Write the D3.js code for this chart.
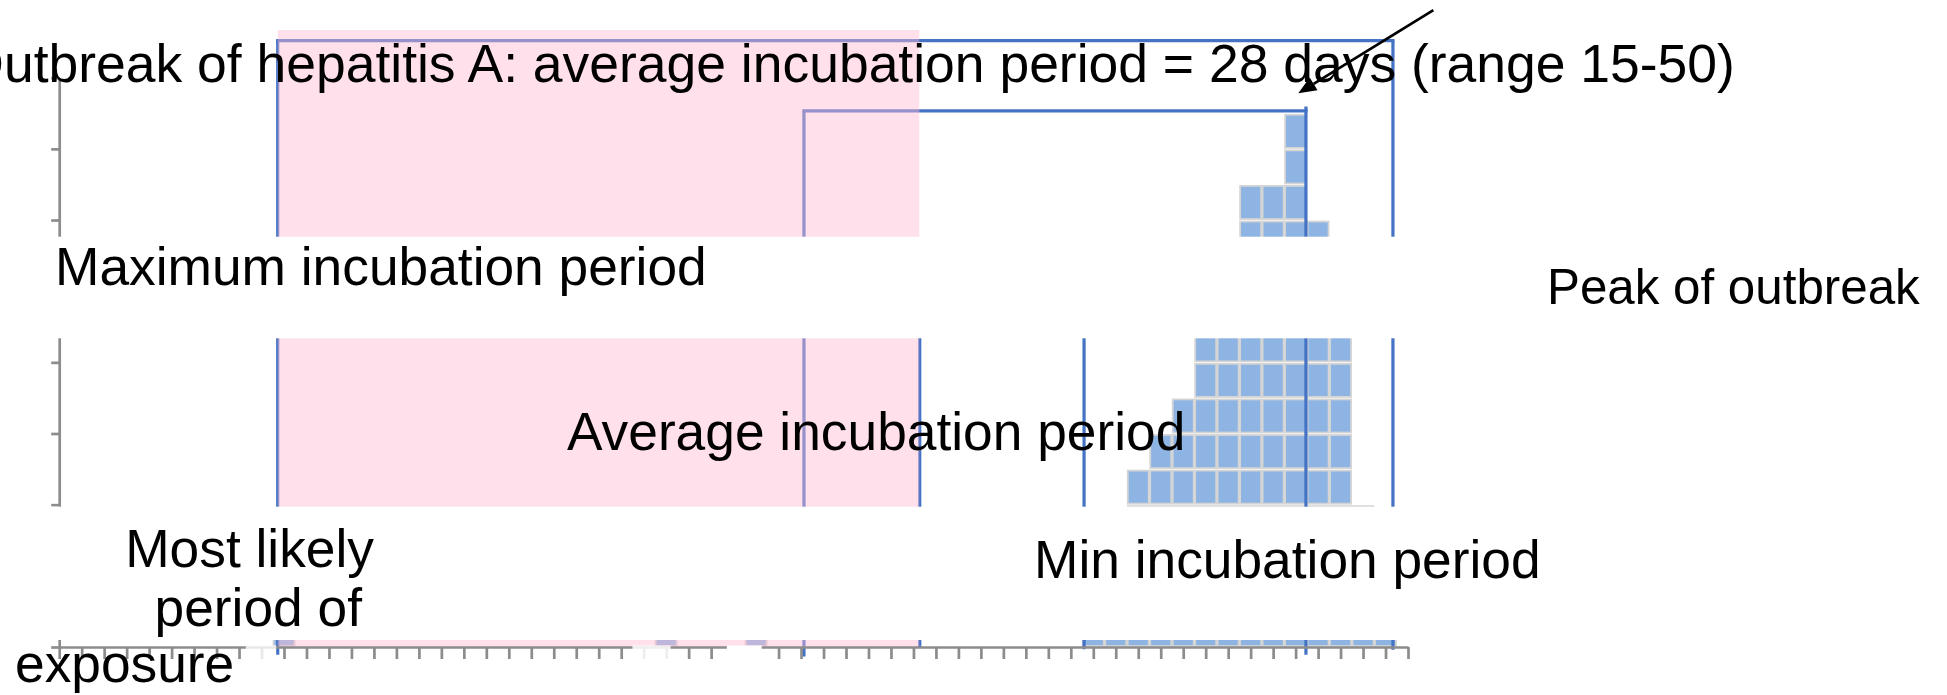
<!DOCTYPE html>
<html>
<head>
<meta charset="utf-8">
<script src="https://cdn.jsdelivr.net/npm/d3@7"></script>
<style>
  html, body { margin: 0; padding: 0; background: #fff; }
  svg { display: block; }
  text { font-family: "Liberation Sans", Arial, sans-serif; fill: #000; }
</style>
</head>
<body>
<svg id="chart" width="1947" height="695"></svg>
<script>
// ---------------- data ----------------
const dayTicks = d3.range(0, 61);                 // x axis: one tick per day
const yTicks = d3.range(0, 17, 2);                 // y axis: cases, every 2
const caseDays   = [10, 27, 31, 46, 47, 48, 49, 50, 51, 52, 53, 54, 55, 56, 57, 58, 59];
const caseCounts = [ 1,  1,  1,  2,  3,  5,  6,  7, 10, 11, 13, 13, 15, 12, 10,  4,  2];

// reference lines (day positions) with their top / bottom (case units)
const refDays   = [9.72, 33.13, 38.28, 45.59, 55.46, 59.33];
const refTop    = [17.04, 15.07, 11.0, 11.0, 15.19, 17.04];
const refBottom = [-0.22, -0.27, 0.0, -0.06, -0.22, -0.08];

// brackets: maximum incubation and average incubation
const bracketFrom  = [9.72, 33.13];
const bracketTo    = [59.33, 55.46];
const bracketLevel = [17.04, 15.07];

// most likely period of exposure window
const exposureWindow = [9.72, 38.26];
const exposureTop = 17.34;

// white patches along the axis (day ranges)
const patchFrom = [8.3, 25.5, 29.7];
const patchTo   = [9.65, 27.2, 31.25];
const patchOpacity = [0.8, 0.85, 1];

// labels
const labelTexts = [
  "Outbreak of hepatitis A: average incubation period = 28 days (range 15-50)",
  "Maximum incubation period",
  "Peak of outbreak",
  "Average incubation period",
  "Most likely",
  "period of",
  "exposure",
  "Min incubation period"
];

// ---------------- layout ----------------
const W = 1947, H = 695;
const labelLayout = [
  {x: 1733,   y: 81.5,  anchor: "start",  size: 53.3},
  {x: 55,     y: 285,   anchor: "start",  size: 53.3},
  {x: 1547,   y: 304,   anchor: "start",  size: 49.3},
  {x: 567,    y: 450,   anchor: "start",  size: 53.3},
  {x: 249.6,  y: 567,   anchor: "middle", size: 53.3},
  {x: 258.3,  y: 626,   anchor: "middle", size: 53.3},
  {x: 15,     y: 681.5, anchor: "start",  size: 53.3},
  {x: 1034,   y: 578,   anchor: "start",  size: 53.3}
];
// title fit: advance start of the "h" of "hepatitis" and advance end of the text
const titleFit = {hIndex: 12, hStart: 256.5, end: 1735};
const whiteBands = [[236.7, 338.3], [506.7, 640]];
const arrowFrom = {d: 61.13, v: 17.9}, arrowTo = {d: 55.12, v: 15.56};

const svg = d3.select("#chart");
const x = d3.scaleLinear().domain([0, 60]).range([59.2, 1408]);
const y = d3.scaleLinear().domain([0, 16]).range([647, 77.7]);

const BLUE = "#4472c4";
const FILL = "#8eb4e3";
const AXIS = "#8c8c8c";

// ---------------- case squares ----------------
const squares = [];
caseDays.forEach((d, i) => {
  for (let k = 0; k < caseCounts[i]; k++) squares.push({d, k});
});
svg.append("g").selectAll("rect").data(squares).join("rect")
  .attr("x", s => x(s.d - 0.5) + 0.75)
  .attr("width", s => x(s.d + 0.5) - x(s.d - 0.5) - 1.5)
  .attr("y", s => y(s.k + 1) + 1.5)
  .attr("height", s => y(s.k) - y(s.k + 1) - 2.5)
  .attr("fill", FILL)
  .attr("stroke", "#d4d4d4")
  .attr("stroke-width", 1.8);

// ---------------- reference lines ----------------
const gLines = svg.append("g").attr("stroke", BLUE).attr("stroke-width", 3.2).attr("fill", "none");
gLines.selectAll("line.v").data(refDays).join("line").attr("class", "v")
  .attr("x1", d => x(d)).attr("x2", d => x(d))
  .attr("y1", (d, i) => y(refTop[i])).attr("y2", (d, i) => y(refBottom[i]));
gLines.selectAll("line.h").data(bracketFrom).join("line").attr("class", "h")
  .attr("x1", d => x(d) - 1.6).attr("x2", (d, i) => x(bracketTo[i]) + 1.6)
  .attr("y1", (d, i) => y(bracketLevel[i])).attr("y2", (d, i) => y(bracketLevel[i]));

// ---------------- exposure window (translucent pink) ----------------
svg.append("rect")
  .attr("x", x(exposureWindow[0]))
  .attr("width", x(exposureWindow[1]) - x(exposureWindow[0]))
  .attr("y", y(exposureTop))
  .attr("height", y(0) - y(exposureTop))
  .attr("fill", "rgb(255,184,210)")
  .attr("fill-opacity", 0.44);

// ---------------- axes ----------------
const xAxis = d3.axisBottom(x).tickValues(dayTicks).tickSize(12).tickSizeOuter(0).tickFormat("");
const yAxis = d3.axisLeft(y).tickValues(yTicks).tickSize(8).tickSizeOuter(0).tickFormat("");
const gx = svg.append("g").attr("transform", `translate(0,${y(0)})`).call(xAxis);
const gy = svg.append("g").attr("transform", `translate(${x(0)},0)`).call(yAxis);
[gx, gy].forEach(g => {
  g.selectAll("path.domain").attr("stroke", AXIS).attr("stroke-width", 2.7);
  g.selectAll(".tick line").attr("stroke", AXIS).attr("stroke-width", 2.7);
});

// ---------------- white patches on axis ----------------
svg.append("g").selectAll("rect").data(patchFrom).join("rect")
  .attr("x", d => x(d))
  .attr("width", (d, i) => x(patchTo[i]) - x(d))
  .attr("y", y(0) - 1.5)
  .attr("height", 16)
  .attr("fill", "#fff")
  .attr("fill-opacity", (d, i) => patchOpacity[i]);

// ---------------- white bands (text boxes) ----------------
svg.append("g").selectAll("rect").data(whiteBands).join("rect")
  .attr("x", 0).attr("width", W)
  .attr("y", b => b[0]).attr("height", b => b[1] - b[0])
  .attr("fill", "#fff");

// ---------------- labels ----------------
const labels = svg.append("g").selectAll("text").data(labelTexts).join("text")
  .attr("x", (t, i) => labelLayout[i].x)
  .attr("y", (t, i) => labelLayout[i].y)
  .attr("text-anchor", (t, i) => labelLayout[i].anchor)
  .attr("font-size", (t, i) => labelLayout[i].size)
  .text(t => t);

// fit the title so that it spans the same extent as in the figure
(function fitTitle() {
  const node = labels.nodes()[0];
  const s0 = labelLayout[0].size;
  node.setAttribute("x", 0);
  const total = node.getComputedTextLength();
  let hStart;
  try { hStart = node.getStartPositionOfChar(titleFit.hIndex).x; }
  catch (e) { hStart = node.getSubStringLength(0, titleFit.hIndex); }
  const k = (titleFit.end - titleFit.hStart) / (total - hStart);
  const s = s0 * k;
  const x0 = titleFit.end - total * k;
  node.setAttribute("font-size", s);
  node.setAttribute("x", x0);
})();

// ---------------- arrow ----------------
const ax0 = x(arrowFrom.d), ay0 = y(arrowFrom.v);
const ax1 = x(arrowTo.d), ay1 = y(arrowTo.v);
const len = Math.hypot(ax1 - ax0, ay1 - ay0);
const ux = (ax1 - ax0) / len, uy = (ay1 - ay0) / len;
const headL = 18, headW = 7.5;
const bx = ax1 - headL * ux, by = ay1 - headL * uy;
svg.append("line")
  .attr("x1", ax0).attr("y1", ay0).attr("x2", bx).attr("y2", by)
  .attr("stroke", "#000").attr("stroke-width", 2.7);
svg.append("polygon")
  .attr("points", [
    [ax1, ay1],
    [bx - headW * uy, by + headW * ux],
    [bx + headW * uy, by - headW * ux]
  ].map(p => p.join(",")).join(" "))
  .attr("fill", "#000");
</script>
</body>
</html>
